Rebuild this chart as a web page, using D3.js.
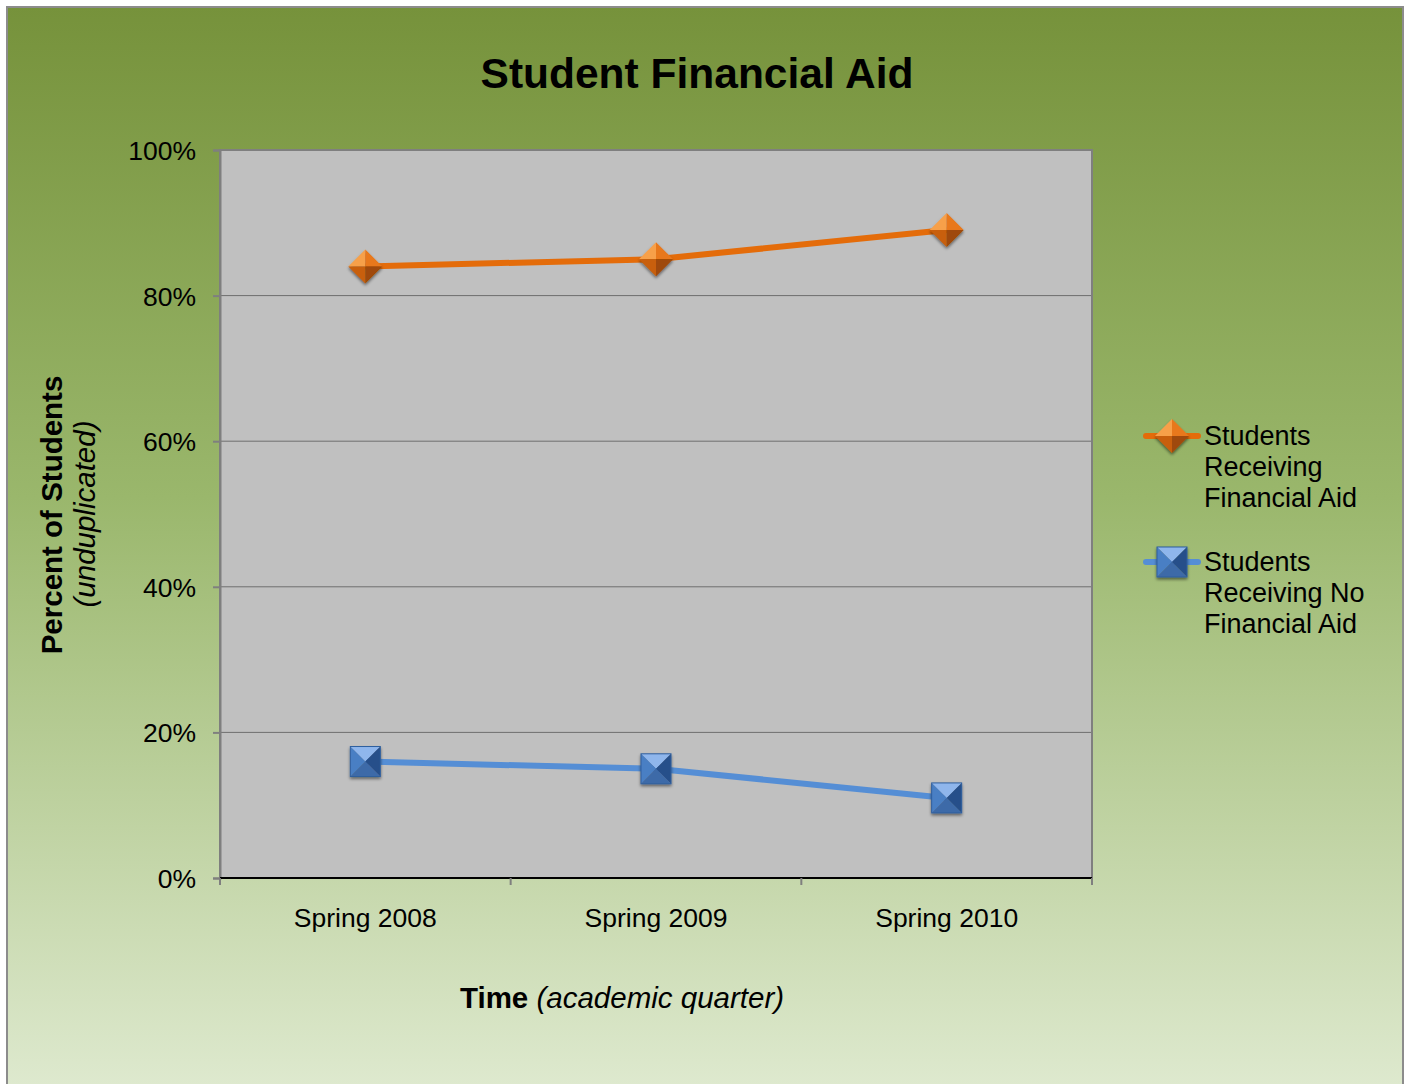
<!DOCTYPE html>
<html><head><meta charset="utf-8">
<script src="https://cdn.jsdelivr.net/npm/d3@7"></script>
<style>html,body{margin:0;padding:0;background:#fff;}svg{display:block;font-family:"Liberation Sans",Arial,sans-serif;}</style>
</head><body><svg id="c" width="1411" height="1084"></svg>
<script>
const categories = ["Spring 2008", "Spring 2009", "Spring 2010"];
const receivingAid = [84, 85, 89];
const noAid = [16, 15, 11];
const yTicks = [0, 20, 40, 60, 80, 100];
const seriesNames = [["Students", "Receiving", "Financial Aid"], ["Students", "Receiving No", "Financial Aid"]];

const svg = d3.select("#c");
const defs = svg.append("defs");
const bg = defs.append("linearGradient").attr("id", "bg").attr("x1", 0).attr("y1", 0).attr("x2", 0).attr("y2", 1);
bg.append("stop").attr("offset", 0).attr("stop-color", "#76923b");
bg.append("stop").attr("offset", 0.45).attr("stop-color", "#9ab76c");
bg.append("stop").attr("offset", 1).attr("stop-color", "#dfead0");
const sh = defs.append("filter").attr("id", "sh").attr("x", -0.5).attr("y", -0.5).attr("width", 2).attr("height", 2);
sh.append("feGaussianBlur").attr("in", "SourceAlpha").attr("stdDeviation", 1.5).attr("result", "b");
sh.append("feOffset").attr("dy", 2).attr("result", "o");
sh.append("feComponentTransfer").append("feFuncA").attr("type", "linear").attr("slope", 0.5);
const m = sh.append("feMerge"); m.append("feMergeNode"); m.append("feMergeNode").attr("in", "SourceGraphic");

// background frame
svg.append("rect").attr("x", 7).attr("y", 7).attr("width", 1396).attr("height", 1090)
  .attr("fill", "url(#bg)").attr("stroke", "#8c8c8c").attr("stroke-width", 2);

const L = 220, R = 1092, T = 150, B = 878;
const x = d3.scaleBand().domain(categories).range([L, R]);
const y = d3.scaleLinear().domain([0, 100]).range([B, T]);

svg.append("rect").attr("x", L).attr("y", T).attr("width", R - L).attr("height", B - T).attr("fill", "#c0c0c0");
// gridlines
svg.append("g").selectAll("line").data(yTicks.filter(d => d > 0 && d < 100)).join("line")
  .attr("x1", L).attr("x2", R).attr("y1", d => y(d)).attr("y2", d => y(d))
  .attr("stroke", "#6e6e6e").attr("stroke-width", 1);
svg.append("rect").attr("x", L).attr("y", T).attr("width", R - L).attr("height", B - T)
  .attr("fill", "none").attr("stroke", "#7f7f7f").attr("stroke-width", 2);

// y axis
const yAxis = d3.axisLeft(y).tickValues(yTicks).tickFormat(d => d + "%").tickSize(7).tickPadding(17);
const gy = svg.append("g").attr("transform", `translate(${L},0)`).call(yAxis);
gy.select(".domain").attr("stroke", "#7f7f7f").attr("stroke-width", 2);
gy.selectAll(".tick line").attr("stroke", "#7f7f7f").attr("stroke-width", 2);
gy.selectAll("text").attr("font-size", 26.5).attr("fill", "#000").attr("font-family", "Liberation Sans, Arial").attr("dy", "0.36em");

// x axis
const gx = svg.append("g").attr("transform", `translate(0,${B})`);
gx.append("line").attr("x1", L).attr("x2", R).attr("stroke", "#000").attr("stroke-width", 2);
const bounds = categories.map(c => x(c)).concat([R]);
gx.selectAll(".tk").data(bounds).join("line").attr("class", "tk")
  .attr("x1", d => d).attr("x2", d => d).attr("y1", 0).attr("y2", 7).attr("stroke", "#7f7f7f").attr("stroke-width", 2);
gx.selectAll("text").data(categories).join("text")
  .attr("x", d => x(d) + x.bandwidth() / 2).attr("y", 49).attr("text-anchor", "middle")
  .attr("font-size", 26.5).text(d => d);

// title
svg.append("text").attr("x", 697).attr("y", 88).attr("text-anchor", "middle")
  .attr("font-size", 42.5).attr("font-weight", "bold").text("Student Financial Aid");

// axis titles
svg.append("text").attr("transform", "translate(62,515) rotate(-90)").attr("text-anchor", "middle")
  .attr("font-size", 29.5).attr("font-weight", "bold").text("Percent of Students");
svg.append("text").attr("transform", "translate(95,514) rotate(-90)").attr("text-anchor", "middle")
  .attr("font-size", 29.5).attr("font-style", "italic").text("(unduplicated)");
const xt = svg.append("text").attr("x", 622).attr("y", 1008).attr("text-anchor", "middle").attr("font-size", 29.5);
xt.append("tspan").attr("font-weight", "bold").text("Time");
xt.append("tspan").attr("font-style", "italic").text(" (academic quarter)");

// markers
function diamond(g, cx, cy) {
  const s = 17;
  const gg = g.append("g").attr("filter", "url(#sh)");
  const facets = [
    [[cx, cy - s], [cx - s, cy], [cx, cy], "#f7a04a"],
    [[cx, cy - s], [cx + s, cy], [cx, cy], "#e8781a"],
    [[cx - s, cy], [cx, cy + s], [cx, cy], "#c85e09"],
    [[cx + s, cy], [cx, cy + s], [cx, cy], "#9f4a07"]
  ];
  facets.forEach(f => gg.append("path").attr("d", d3.line()([f[0], f[1], f[2]]) + "Z").attr("fill", f[3]));
}
function square(g, cx, cy) {
  const s = 15;
  const gg = g.append("g").attr("filter", "url(#sh)");
  const a = [cx - s, cy - s], b = [cx + s, cy - s], c = [cx + s, cy + s], d = [cx - s, cy + s], o = [cx, cy];
  [[a, b, "#8fb6ec"], [a, d, "#4a7fc4"], [b, c, "#28508a"], [d, c, "#3d6aa8"]]
    .forEach(f => gg.append("path").attr("d", d3.line()([f[0], f[1], o]) + "Z").attr("fill", f[2]));
  gg.append("rect").attr("x", cx - s).attr("y", cy - s).attr("width", 2 * s).attr("height", 2 * s)
    .attr("fill", "none").attr("stroke", "#2f5f9e").attr("stroke-width", 1);
}

const cx = d => x(d) + x.bandwidth() / 2;
const line = d3.line().x(d => cx(d[0])).y(d => y(d[1]));
const s1 = categories.map((c, i) => [c, receivingAid[i]]);
const s2 = categories.map((c, i) => [c, noAid[i]]);
svg.append("path").attr("d", line(s1)).attr("fill", "none").attr("stroke", "#e46c0a").attr("stroke-width", 6).attr("stroke-linejoin", "round");
svg.append("path").attr("d", line(s2)).attr("fill", "none").attr("stroke", "#558ed5").attr("stroke-width", 6).attr("stroke-linejoin", "round");
const mk = svg.append("g");
s1.forEach(d => diamond(mk, cx(d[0]), y(d[1])));
s2.forEach(d => square(mk, cx(d[0]), y(d[1])));

// legend
const lg = svg.append("g");
const legY = [436, 562];
const colors = ["#e46c0a", "#558ed5"];
legY.forEach((ly, i) => {
  lg.append("line").attr("x1", 1146).attr("x2", 1198).attr("y1", ly).attr("y2", ly)
    .attr("stroke", colors[i]).attr("stroke-width", 6).attr("stroke-linecap", "round");
  if (i === 0) diamond(lg, 1172, ly); else square(lg, 1172, ly);
  const t = lg.append("text").attr("x", 1204).attr("y", ly + 9).attr("font-size", 27);
  seriesNames[i].forEach((s, j) => t.append("tspan").attr("x", 1204).attr("dy", j === 0 ? 0 : 31).text(s));
});
</script></body></html>
